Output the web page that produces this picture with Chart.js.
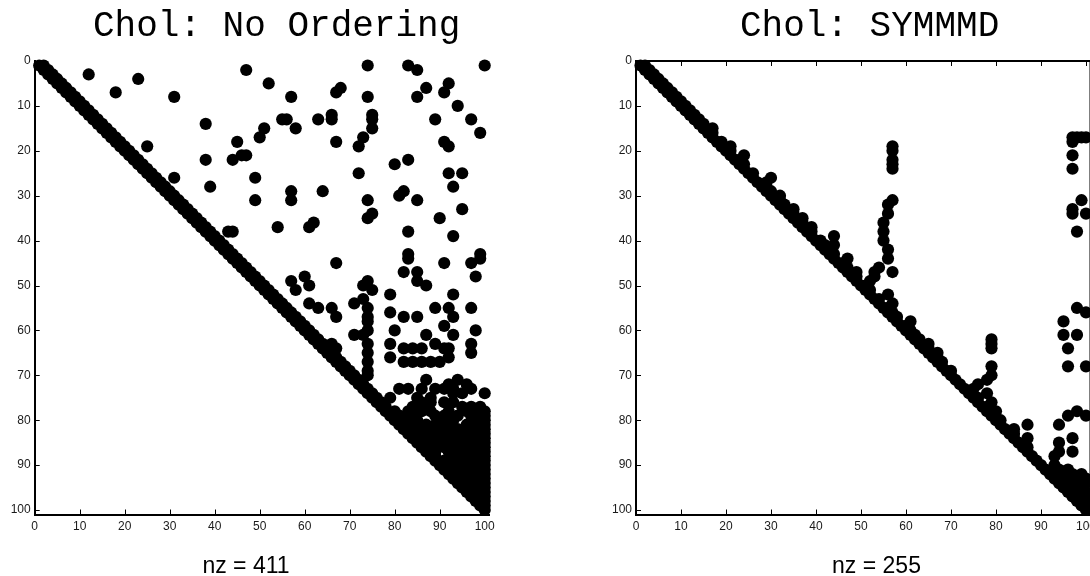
<!DOCTYPE html>
<html>
<head>
<meta charset="utf-8">
<title>Chol spy plots</title>
<script src="https://cdn.jsdelivr.net/npm/chart.js@4.4.0/dist/chart.umd.min.js"></script>
<style>
    html, body { margin: 0; padding: 0; background: #fff; overflow: hidden; }
    body { width: 1090px; height: 576px; position: relative; }
    canvas { position: absolute; top: 0; }
    #chartLeft { left: 0; }
    #chartRight { left: 560px; }
</style>
</head>
<body>
<canvas id="chartLeft" width="545" height="576"></canvas>
<canvas id="chartRight" width="560" height="576"></canvas>
<script>
// ========== DATA ==========
// tick labels shared by both axes of both plots
const tickValues = [0, 10, 20, 30, 40, 50, 60, 70, 80, 90, 100];

const leftTitle = 'Chol: No Ordering';
const leftLabel = 'nz = 411';
const rightTitle = 'Chol: SYMMMD';
const rightLabel = 'nz = 255';

// nonzero pattern, no ordering: [row, [columns]]
const noOrderRows = [
    [1, [1, 2, 74, 83, 100]], [2, [2, 3, 47, 85]], [3, [3, 4, 12]], [4, [4, 5, 23]],
    [5, [5, 6, 52, 92]], [6, [6, 7, 68, 87]], [7, [7, 8, 18, 67, 91]], [8, [8, 9, 31, 57, 74, 85]],
    [9, [9, 10]], [10, [10, 11, 94]], [11, [11, 12]], [12, [12, 13, 66, 75]],
    [13, [13, 14, 55, 56, 63, 66, 75, 89, 97]], [14, [14, 15, 38]], [15, [15, 16, 51, 58, 75]],
    [16, [16, 17, 99]], [17, [17, 18, 50, 73]], [18, [18, 19, 45, 67, 91]], [19, [19, 20, 25, 72, 92]],
    [20, [20, 21]], [21, [21, 22, 46, 47]], [22, [22, 23, 38, 44, 83]], [23, [23, 24, 80]],
    [24, [24, 25]], [25, [25, 26, 72, 92, 95]], [26, [26, 27, 31, 49]], [27, [27, 28]],
    [28, [28, 29, 39, 93]], [29, [29, 30, 57, 64, 82]], [30, [30, 31, 81]], [31, [31, 32, 49, 57, 74, 85]],
    [32, [32, 33]], [33, [33, 34, 95]], [34, [34, 35, 75]], [35, [35, 36, 74, 90]],
    [36, [36, 37, 62]], [37, [37, 38, 54, 61]], [38, [38, 39, 43, 44, 83]], [39, [39, 40, 93]],
    [40, [40, 41]], [41, [41, 42]], [42, [42, 43]], [43, [43, 44, 83, 99]], [44, [44, 45, 83, 99]],
    [45, [45, 46, 67, 91, 97]], [46, [46, 47]], [47, [47, 48, 82, 85]], [48, [48, 49, 60, 98]],
    [49, [49, 50, 57, 74, 85]], [50, [50, 51, 61, 73, 87]], [51, [51, 52, 58, 75]], [52, [52, 53, 79, 93]],
    [53, [53, 54, 73]], [54, [54, 55, 61, 71]], [55, [55, 56, 63, 66, 74, 89, 92, 97]], [56, [56, 57, 79]],
    [57, [57, 58, 67, 74, 82, 85, 93]], [58, [58, 59, 74]], [59, [59, 60, 91]], [60, [60, 61, 74, 80, 98]],
    [61, [61, 62, 71, 73, 87, 93]], [62, [62, 63]], [63, [63, 64, 66, 74, 79, 89, 97]],
    [64, [64, 65, 67, 82, 84, 86, 91, 92]], [65, [65, 66, 74, 97]], [66, [66, 67, 79, 92]],
    [67, [67, 68, 74, 82, 84, 86, 88, 90]], [68, [68, 69]], [69, [69, 70, 74]], [70, [70, 71, 74]],
    [71, [71, 72, 87, 94]], [72, [72, 73, 92, 96]], [73, [73, 74, 81, 83, 86, 89, 91, 93, 97]],
    [74, [74, 75, 93, 95, 100]], [75, [75, 76, 79, 85, 88]], [76, [76, 77, 86, 88, 91, 93]],
    [77, [77, 78, 84, 87, 95, 97, 99]], [78, [78, 80, 83, 86, 88, 92, 96, 98, 100]],
    [79, [79, 81, 84, 89, 91, 94, 97, 100]], [80, [80, 82, 85, 90, 93, 98, 100]],
    [81, [81, 83, 87, 89, 92, 96, 99, 100]], [82, [82, 84, 86, 90, 94, 97, 100]],
    [83, [83, 85, 88, 91, 93, 95, 98, 100]], [84, [84, 86, 89, 92, 96, 99, 100]],
    [85, [85, 86, 88, 90, 94, 97, 100]], [86, [86, 88, 91, 93, 95, 98, 100]],
    [87, [87, 89, 92, 96, 99, 100]], [88, [88, 89, 94, 97, 100]],
    [89, [89, 91, 93, 95, 98, 100]], [90, [90, 92, 96, 99, 100]],
    [91, [91, 92, 94, 97, 100]], [92, [92, 93, 95, 98, 100]],
    [93, [93, 94, 96, 99, 100]], [94, [94, 95, 97, 100]], [95, [95, 96, 98, 100]],
    [96, [96, 97, 99, 100]], [97, [97, 98, 100]], [98, [98, 99, 100]],
    [99, [99, 100]], [100, [100]]
];

// nonzero pattern after SYMMMD reordering: [row, [columns]]
const symmmdRows = [
    [1, [1, 2]], [2, [2, 3]], [3, [3, 4]], [4, [4, 5]], [5, [5, 6]],
    [6, [6, 7]], [7, [7, 8]], [8, [8, 9]], [9, [9, 10]], [10, [10, 11]],
    [11, [11, 12]], [12, [12, 13]], [13, [13, 14]], [14, [14, 15]], [15, [15, 17]],
    [16, [16, 17]], [17, [17, 97, 98, 99, 100]], [18, [18, 19, 97]], [19, [19, 21, 57]],
    [20, [20, 21, 57]], [21, [21, 24, 97]], [22, [22, 23, 57]], [23, [23, 24, 57]],
    [24, [24, 57, 97]], [25, [25, 26]], [26, [26, 30]], [27, [27, 29]], [28, [28, 29]],
    [29, [29, 30]], [30, [30, 32]], [31, [31, 32, 57, 99]], [32, [32, 33, 56]],
    [33, [33, 35, 97]], [34, [34, 35, 56, 97, 100]], [35, [35, 37]], [36, [36, 37, 55]],
    [37, [37, 39]], [38, [38, 39, 55, 98]], [39, [39, 44]], [40, [40, 41, 55]],
    [41, [41, 42, 44]], [42, [42, 43, 56]], [43, [43, 44]], [44, [44, 47, 56]],
    [45, [45, 46]], [46, [46, 47, 54]], [47, [47, 49, 53, 57]], [48, [48, 49, 53]],
    [49, [49, 52]], [50, [50, 51]], [51, [51, 52]], [52, [52, 56]], [53, [53, 54]],
    [54, [54, 57]], [55, [55, 56, 98]], [56, [56, 57, 100]], [57, [57, 58]],
    [58, [58, 61, 95]], [59, [59, 60]], [60, [60, 61]], [61, [61, 62, 95, 98]],
    [62, [62, 63, 79]], [63, [63, 65, 79]], [64, [64, 65, 79, 96]], [65, [65, 67]],
    [66, [66, 67]], [67, [67, 68]], [68, [68, 79, 96, 100]], [69, [69, 70]],
    [70, [70, 79]], [71, [71, 78]], [72, [72, 76]], [73, [73, 75]], [74, [74, 78]],
    [75, [75, 76]], [76, [76, 79]], [77, [77, 78]], [78, [78, 80, 98]],
    [79, [79, 96, 100]], [80, [80, 81]], [81, [81, 87, 94]], [82, [82, 84]],
    [83, [83, 84]], [84, [84, 87, 97]], [85, [85, 94]], [86, [86, 87]],
    [87, [87, 94, 97]], [88, [88, 93]], [89, [89]], [90, [90, 93]],
    [91, [91, 94, 96]], [92, [92, 95, 97, 99]], [93, [93, 95, 97, 99, 100]],
    [94, [94, 96, 98, 100]], [95, [95, 97, 99]], [96, [96, 97, 98, 100]],
    [97, [97, 98, 99]], [98, [98, 99, 100]], [99, [99, 100]], [100, [100]]
];

// ========== HELPERS ==========
const toPoints = rows => rows.flatMap(([r, cols]) => cols.map(c => ({ x: c, y: r })));

// inward ticks, optional top frame, title and nz label
const spyDecor = {
    id: 'spyDecor',
    afterDraw(chart, args, opts) {
        const { ctx, chartArea: a, scales: { x, y } } = chart;
        ctx.save();
        ctx.strokeStyle = '#000';
        ctx.lineWidth = 1;
        ctx.beginPath();
        tickValues.forEach(v => {
            const px = Math.round(x.getPixelForValue(v)) + 0.5;
            const py = Math.round(y.getPixelForValue(v)) + 0.5;
            ctx.moveTo(px, a.bottom);
            ctx.lineTo(px, a.bottom - 5);
            ctx.moveTo(a.left, py);
            ctx.lineTo(a.left + 5, py);
            if (opts.box) {
                ctx.moveTo(px, a.top);
                ctx.lineTo(px, a.top + 5);
            }
        });
        ctx.stroke();
        if (opts.box) {
            ctx.lineWidth = 2;
            ctx.beginPath();
            ctx.moveTo(a.left, a.top);
            ctx.lineTo(a.right, a.top);
            ctx.lineTo(a.right, a.bottom);
            ctx.stroke();
        }
        ctx.fillStyle = '#000';
        ctx.textBaseline = 'alphabetic';
        ctx.textAlign = 'left';
        ctx.font = '36px "Courier New", "Liberation Mono", monospace';
        ctx.fillText(opts.title, opts.titleX, 36);
        ctx.textAlign = 'center';
        ctx.font = '23px "Liberation Sans", Arial, sans-serif';
        ctx.fillText(opts.label, opts.labelX, 573);
        ctx.restore();
    }
};

function makeSpy(canvasId, rows, decor, yWidth, padRight) {
    const tickFont = { family: '"Liberation Sans", Arial, sans-serif', size: 12 };
    const axisBase = {
        type: 'linear',
        min: 0,
        max: 101,
        afterBuildTicks: s => { s.ticks = tickValues.map(v => ({ value: v })); },
        grid: { display: true, drawOnChartArea: false, drawTicks: false },
        border: { display: true, color: '#000', width: 2 },
        ticks: { color: '#1a1a1a', font: tickFont, autoSkip: false, maxRotation: 0 }
    };
    return new Chart(document.getElementById(canvasId).getContext('2d'), {
        type: 'scatter',
        data: {
            datasets: [{
                data: toPoints(rows),
                pointRadius: 6.1,
                pointHoverRadius: 6.1,
                pointBorderWidth: 0,
                pointBackgroundColor: '#000',
                clip: false
            }]
        },
        options: {
            responsive: false,
            animation: false,
            events: [],
            layout: { padding: { top: 61, right: padRight, bottom: 31.5, left: 0 } },
            plugins: {
                legend: { display: false },
                tooltip: { enabled: false },
                spyDecor: decor
            },
            scales: {
                x: {
                    ...axisBase,
                    position: 'bottom',
                    afterFit: s => { s.height = 30; },
                    ticks: { ...axisBase.ticks, padding: 5 }
                },
                y: {
                    ...axisBase,
                    position: 'left',
                    reverse: true,
                    afterFit: s => { s.width = yWidth; },
                    ticks: { ...axisBase.ticks, padding: 4 }
                }
            }
        },
        plugins: [spyDecor]
    });
}

// ========== INIT ==========
makeSpy('chartLeft', noOrderRows,
    { box: false, title: leftTitle, titleX: 93, label: leftLabel, labelX: 246 }, 34.7, 55.8);
makeSpy('chartRight', symmmdRows,
    { box: true, title: rightTitle, titleX: 180, label: rightLabel, labelX: 316.5 }, 76, 29.5);
</script>
</body>
</html>
